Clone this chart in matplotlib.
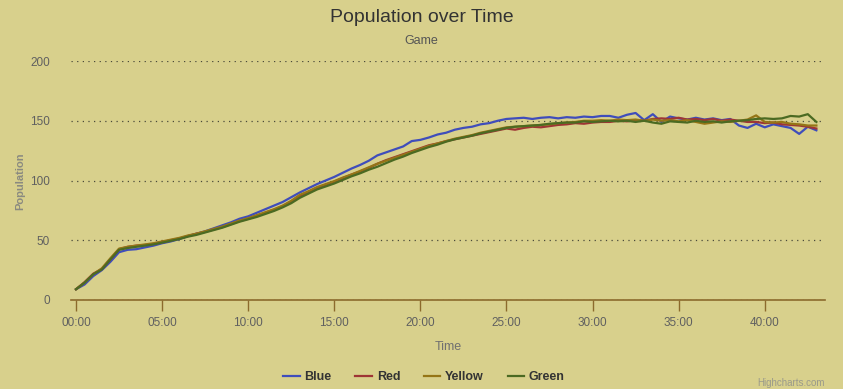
import numpy as np
import matplotlib
matplotlib.use("Agg")
import matplotlib.pyplot as plt
from matplotlib.ticker import FuncFormatter, MultipleLocator

plt.rcParams['font.family'] = ['Liberation Sans', 'DejaVu Sans']

# sample times in minutes (every 30 s)
minutes = np.arange(0, 43.01, 0.5)

blue = [9, 13, 20, 25, 32, 40, 42, 42.5, 44, 45.5,
        47.5, 49, 51, 53.5, 55.5, 57.5, 60, 62.5, 65, 68,
        70, 73, 76, 79, 82, 86, 90, 93.5, 97, 100,
        103, 106.5, 110, 113, 116.5, 121, 123.5, 126, 128.5, 133,
        134, 136, 138.5, 140, 142.5, 144, 145, 147, 148, 150,
        151.5, 152, 152.5, 151.5, 152.5, 153, 152, 153, 152.5, 153.5,
        153, 154, 154, 152.5, 155, 156.5, 150.5, 155.5, 149, 153.5,
        152, 151, 152.5, 151, 152, 150.5, 151.5, 146, 144, 147.5,
        144.5, 147, 145.5, 144, 139, 145, 142]

red = [9, 15, 22, 26, 34, 42.5, 44.5, 45.5, 46, 47,
       48.5, 50, 51.5, 53.5, 55.5, 57, 59, 61, 63.5, 66,
       68, 70.5, 73, 75.5, 78.5, 82.5, 87, 90.5, 93.5, 96.5,
       99, 102, 105, 107.5, 110.5, 114, 117, 119.5, 122, 124.5,
       127, 129.5, 131, 133, 134.5, 136, 137.5, 139, 140.5, 142,
       143.5, 142.5, 144, 145, 144.5, 145.5, 146.5, 147, 148, 147.5,
       148.5, 149, 149, 150, 149.5, 150.5, 150, 151.5, 152, 151.5,
       152.5, 151, 151.5, 150.5, 151.5, 150, 151, 150, 149, 149,
       148, 148.5, 147, 146.5, 146, 145, 143.5]

yellow = [9, 14.5, 21.5, 26.5, 35, 43, 44.5, 45.5, 46.5, 47.5,
          49, 50.5, 52, 54, 55.5, 57.5, 59.5, 61.5, 64, 66.5,
          68.5, 71, 73.5, 76, 79, 83, 88, 91, 94.5, 97,
          99.5, 102.5, 105, 108, 111, 114, 116.5, 119, 121.5, 124,
          126.5, 129, 131, 133, 135, 136.5, 138, 140, 141.5, 143,
          144.5, 145, 145.5, 146, 146.5, 147, 148, 148.5, 149, 150,
          150, 150.5, 150, 151, 150.5, 151, 150, 151, 150, 150.5,
          149.5, 150.5, 149, 147.5, 148.5, 149.5, 149, 150, 151, 154.5,
          149, 148.5, 149, 147.5, 147, 146, 146]

green = [9, 14.5, 21.5, 25.5, 34, 42, 43.5, 44.5, 45.5, 46.5,
         48, 49.5, 51, 53, 54.5, 56.5, 58.5, 60.5, 63, 65.5,
         67.5, 69.5, 72, 74.5, 77.5, 81, 85.5, 89, 92.5, 95,
         97.5, 100.5, 103.5, 106, 109, 111.5, 114.5, 117.5, 120, 123,
         125.5, 128, 130, 132.5, 134.5, 136, 137.5, 139.5, 141, 142.5,
         144, 145, 145.5, 146, 146.5, 147.5, 148, 148.5, 148.5, 149.5,
         149, 149.5, 150, 149.5, 150, 149, 150, 148.5, 147.5, 149.5,
         149, 148.5, 150, 149, 149.5, 148.5, 149.5, 150, 150.5, 151.5,
         152, 151.5, 152, 154, 153.5, 155.5, 149]

series = [("Blue", blue, "#3f4dbb"),
          ("Red", red, "#9e3535"),
          ("Yellow", yellow, "#957516"),
          ("Green", green, "#4b6a22")]

bg = "#d8d08c"
axis_col = "#8c6a2c"

fig = plt.figure(figsize=(8.43, 3.89), dpi=100, facecolor=bg)
ax = fig.add_axes([71/843, 89/389, 754/843, 239/389], facecolor=bg)

for name, vals, col in series:
    ax.plot(minutes, vals, color=col, lw=1.6, label=name, solid_joinstyle='round')

ax.set_xlim(-0.29, 43.5)
ax.set_ylim(0, 200)
ax.xaxis.set_major_locator(MultipleLocator(5))
ax.xaxis.set_major_formatter(FuncFormatter(lambda v, p: "%02d:00" % int(round(v))))
ax.yaxis.set_major_locator(MultipleLocator(50))

for s in ['top', 'right', 'left']:
    ax.spines[s].set_visible(False)
ax.spines['bottom'].set_color(axis_col)
ax.spines['bottom'].set_linewidth(1.2)

ax.yaxis.grid(True, linestyle=(0, (1, 3.5)), color='#4a4a3a', lw=0.9)
ax.set_axisbelow(True)

ax.tick_params(axis='x', colors=axis_col, length=8, width=1, pad=4, labelsize=8.5, labelcolor='#606060')
ax.tick_params(axis='y', length=0, pad=15, labelsize=8.5, labelcolor='#606060')

ax.set_xlabel("Time", color='#707070', fontsize=9, labelpad=9)
fig.text(20/843, 1 - 181/389, "Population", rotation=90, ha='center', va='center',
         color='#8a8a80', fontsize=8, fontweight='bold')

fig.text(0.5, 1 - 18/389, "Population over Time", ha='center', va='center', fontsize=14, color='#333333')
fig.text(0.5, 1 - 41/389, "Game", ha='center', va='center', fontsize=9, color='#555555')

leg = fig.legend(loc='center', bbox_to_anchor=(424/843, 1 - 377/389), ncol=4, frameon=False,
                 handlelength=1.3, handletextpad=0.4, columnspacing=1.9,
                 prop={'weight': 'bold', 'size': 9})
for t in leg.get_texts():
    t.set_color('#333333')

fig.text(757/843, 1 - 383/389, "Highcharts.com", ha='left', va='center', fontsize=7, color='#9a9a8a')

fig.savefig("out.png", dpi=100, facecolor=bg)
